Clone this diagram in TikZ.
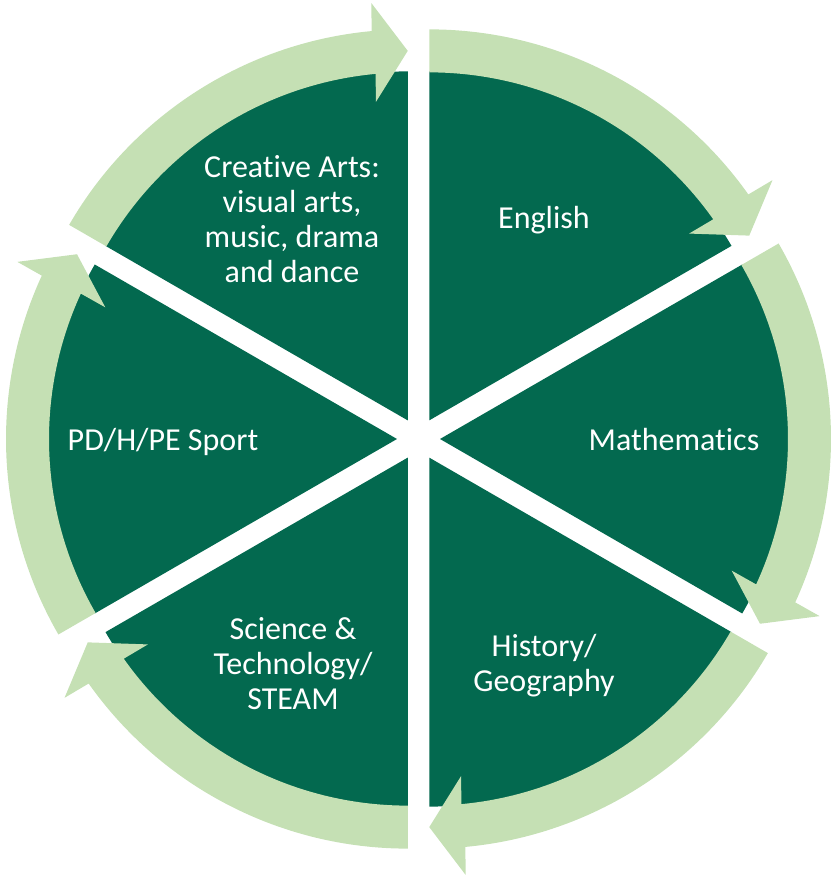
\documentclass[tikz,border=0pt]{standalone}
\usepackage{fontspec}
\setmainfont{Carlito}[Ligatures=NoCommon]
\usetikzlibrary{calc}
\definecolor{segdark}{HTML}{03694F}
\definecolor{seglight}{HTML}{C5E0B4}
\begin{document}
\begin{tikzpicture}[x=1pt,y=1pt,
  sector/.style={fill=segdark},
  ringarrow/.style={fill=seglight},
  segtext/.style={text=white, font=\fontsize{32}{35}\selectfont, align=center, inner sep=0pt}]
\useasboundingbox (0,0) rectangle (833,876);
\coordinate (C) at (418.5,437);
% six exploded pie sectors, each pushed out along its bisector
\foreach \m in {60,0,-60,-120,180,120}{
  \coordinate (O) at ($(C)+(\m:21.5)$);
  \fill[sector] (O) -- ($(O)+(\m+30:349)$)
    arc[start angle=\m+30, end angle=\m-30, radius=349] -- cycle;
}
% clockwise curved arrows around the outer rim of each sector
\foreach \m in {60,0,-60,-120,180,120}{
  \pgfmathsetmacro\eAng{\m-30}
  \pgfmathsetmacro\bAng{\m-30+5.3}
  \pgfmathsetmacro\nAng{\m-30+2.65}
  \coordinate (O) at ($(C)+(\m:21.5)$);
  \coordinate (B) at ($(O)+(\bAng:369.5)$);
  \fill[ringarrow] ($(O)+(\m+30:348)$) -- ($(O)+(\m+30:391)$)
    arc[start angle=\m+30, end angle=\bAng, radius=391]
    -- ($(B)+(\nAng:49.5)$) -- ($(O)+(\eAng:369.5)$) -- ($(B)+(\nAng:-49.5)$)
    -- ($(O)+(\bAng:348)$)
    arc[start angle=\bAng, end angle=\m+30, radius=348] -- cycle;
}
% subject labels
\node[segtext] (arts) at (292,656.5) {Creative Arts:\\visual arts,\\music, drama\\and dance};
\node[segtext, anchor=base] (eng) at (544,647) {English};
\node[segtext, anchor=base] (math) at (674,425) {Mathematics};
\node[segtext] (hist) at (544,210.5) {History/\\Geography};
\node[segtext] (sci) at (293,212.5) {Science \&\\Technology/\\STEAM};
\node[segtext, anchor=base] (pd) at (163,425) {PD/H/PE Sport};
\end{tikzpicture}
\end{document}
